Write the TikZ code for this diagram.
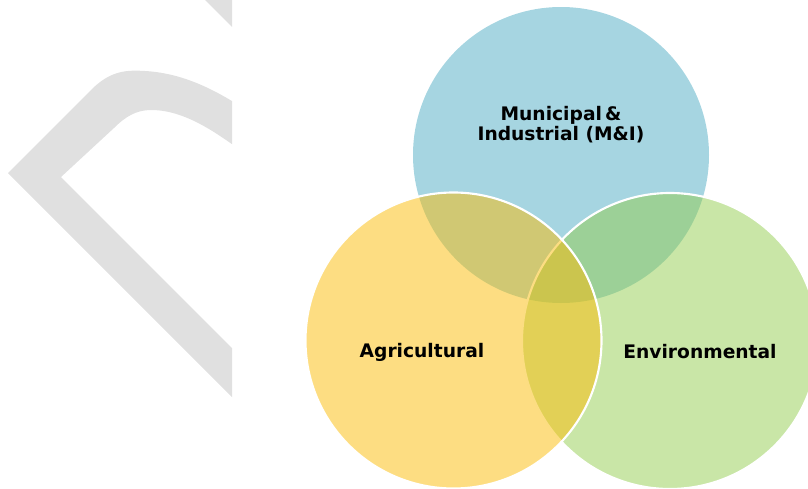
\documentclass[tikz,border=0pt]{standalone}
\usepackage{fontspec}
\setmainfont{DejaVu Sans}
\definecolor{mblue}{RGB}{166,213,225}
\definecolor{myellow}{RGB}{251,188,6}
\definecolor{mgreen}{RGB}{147,205,79}
\definecolor{wmgray}{RGB}{224,224,224}
\tikzset{
  venn/.style={line width=1.6pt, draw=white},
  lbl/.style={font=\fontsize{14}{15}\selectfont\bfseries, text=black, align=center, inner sep=0pt},
}
\begin{document}
\begin{tikzpicture}[x=0.75pt,y=-0.75pt]
\useasboundingbox (0,0) rectangle (808,489);
\clip (0,0) rectangle (808,489);
% watermark shape
\begin{scope}
\clip (0,0) rectangle (232,489);
\fill[wmgray] (8,173) -- (93,88) .. controls (112,70) and (128,70) .. (145,71)
  .. controls (180,73) and (210,87) .. (240,106) -- (240,150)
  .. controls (205,124) and (178,110) .. (151,110)
  .. controls (136,110) and (125,117) .. (114,128) -- (61,177) -- (240,356) -- (240,405) -- cycle;
\fill[wmgray] (205,0) -- (240,35) -- (240,0) -- cycle;
\end{scope}
% circles
\coordinate (cT) at (561,155);
\coordinate (cL) at (453.5,340.5);
\coordinate (cR) at (670,341);
\fill[mblue] (cT) circle[radius=148];
\path[venn, fill=mgreen, fill opacity=0.5] (cR) circle[radius=148];
\path[venn, fill=myellow, fill opacity=0.5] (cL) circle[radius=148];
% labels
\node[lbl] (mi) at (561,125) {Municipal\,\&\\Industrial (M\&I)};
\node[lbl] (ag) at (422,352) {Agricultural};
\node[lbl] (en) at (700,352) {Environmental};
\end{tikzpicture}
\end{document}
